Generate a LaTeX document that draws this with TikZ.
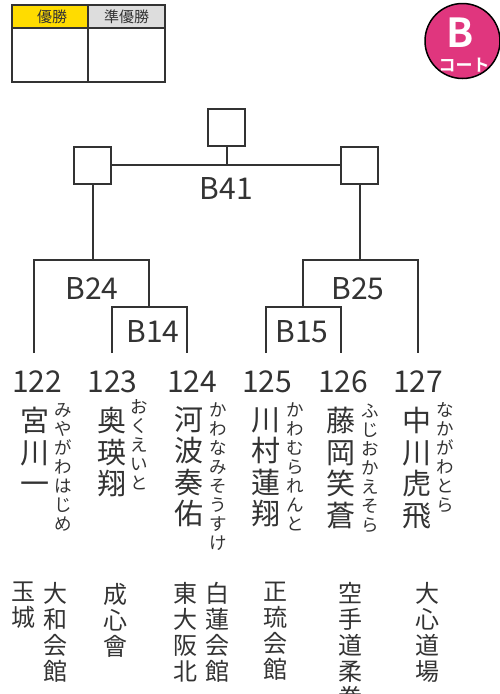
\documentclass[tikz,border=0pt]{standalone}
\usepackage{fontspec}
\setmainfont{Noto Sans CJK JP}
\newfontfamily\jpbold{Noto Sans CJK JP Bold}
\definecolor{ink}{HTML}{333333}
\definecolor{gold}{HTML}{FFDC00}
\definecolor{hdrgray}{HTML}{DDDDDD}
\definecolor{courtpink}{HTML}{E0367E}
\begin{document}
\begin{tikzpicture}[x=1pt,y=-1pt,
  line/.style={draw=ink,line width=2pt},
  wbox/.style={draw=ink,line width=2pt,minimum width=37pt,minimum height=37pt,inner sep=0pt},
  lbl/.style={text=ink,anchor=base,inner sep=0pt,font=\fontsize{30}{30}\selectfont},
  namecol/.style={text=ink,anchor=north,align=center,inner sep=0pt,font=\fontsize{29}{31.5}\selectfont},
  kanacol/.style={text=ink,anchor=north,align=center,inner sep=0pt,font=\fontsize{17.5}{19}\selectfont},
  dojocol/.style={text=ink,anchor=north,align=center,inner sep=0pt,font=\fontsize{24}{26}\selectfont},
  hdr/.style={text=ink,inner sep=0pt,font=\fontsize{15}{15}\selectfont}]
\useasboundingbox (0,0) rectangle (500,694);
\begin{scope}
\clip (0,0) rectangle (500,694);
% winners table
\fill[gold] (12,5) rectangle (88,28);
\fill[hdrgray] (88,5) rectangle (165,28);
\draw[line] (12,5) rectangle (165,82);
\draw[line] (12,28) -- (165,28);
\draw[line] (88,5) -- (88,82);
\node[hdr] (h1) at (52,17) {優勝};
\node[hdr] (h2) at (126.5,17) {準優勝};
% court badge
\node[circle,fill=courtpink,draw=black,line width=1.5pt,minimum size=75pt,inner sep=0pt] (court) at (462.5,41) {};
\node[text=white,anchor=base,inner sep=0pt,font=\jpbold\fontsize{40}{40}\selectfont] (cB) at (460,47) {B};
\node[text=white,anchor=base,inner sep=0pt,font=\jpbold\fontsize{17}{17}\selectfont] (cK) at (464,71) {コート};
% result boxes
\node[wbox] (top) at (226.5,127) {};
\node[wbox] (L) at (92.5,165) {};
\node[wbox] (R) at (359.5,165) {};
% bracket coordinates
\coordinate (j41) at (226.5,165);
\coordinate (j24) at (92.5,260);
\coordinate (j25) at (359.5,260);
\coordinate (j14) at (149,307);
\coordinate (j15) at (303,307);
\coordinate (p122) at (34,353);
\coordinate (p123) at (112,353);
\coordinate (p124) at (187,353);
\coordinate (p125) at (266,353);
\coordinate (p126) at (341,353);
\coordinate (p127) at (418,353);
\draw[line] (top) -- (j41);
\draw[line] (L) -- (R);
\draw[line] (L) -- (j24);
\draw[line] (R) -- (j25);
\draw[line] (p122) |- (j24) -| (j14);
\draw[line] (p123) |- (j14) -| (p124);
\draw[line] (j15) |- (j25) -| (p127);
\draw[line] (p125) |- (j15) -| (p126);
% match labels
\node[lbl] (B41) at (226.5,199) {B41};
\node[lbl] (B24) at (92,299) {B24};
\node[lbl] (B14) at (153,342) {B14};
\node[lbl] (B25) at (358,299) {B25};
\node[lbl] (B15) at (302,342) {B15};
% numbers
\node[lbl] (n122) at (37,392) {122};
\node[lbl] (n123) at (112.5,392) {123};
\node[lbl] (n124) at (192,392) {124};
\node[lbl] (n125) at (267,392) {125};
\node[lbl] (n126) at (343,392) {126};
\node[lbl] (n127) at (418,392) {127};
% names
\node[namecol] (m1) at (35,407) {宮\\川\\一};
\node[kanacol] (k1) at (63,403) {み\\や\\が\\わ\\は\\じ\\め};
\node[namecol] (m2) at (112,407) {奥\\瑛\\翔};
\node[kanacol] (k2) at (139,399) {お\\く\\え\\い\\と};
\node[namecol] (m3) at (189,406) {河\\波\\奏\\佑};
\node[kanacol] (k3) at (218,402) {か\\わ\\な\\み\\そ\\う\\す\\け};
\node[namecol] (m4) at (266,407) {川\\村\\蓮\\翔};
\node[kanacol] (k4) at (295,402) {か\\わ\\む\\ら\\れ\\ん\\と};
\node[namecol] (m5) at (341,407) {藤\\岡\\笑\\蒼};
\node[kanacol] (k5) at (370,404) {ふ\\じ\\お\\か\\え\\そ\\ら};
\node[namecol] (m6) at (417,407) {中\\川\\虎\\飛};
\node[kanacol] (k6) at (445,402) {な\\か\\が\\わ\\と\\ら};
% dojos
\node[dojocol] (d1a) at (55,582) {大\\和\\会\\館};
\node[dojocol] (d1b) at (23,582) {玉\\城};
\node[dojocol] (d2) at (115,583) {成\\心\\會};
\node[dojocol] (d3a) at (217,582) {白\\蓮\\会\\館};
\node[dojocol] (d3b) at (185,582) {東\\大\\阪\\北};
\node[dojocol] (d4) at (275,582) {正\\琉\\会\\館};
\node[dojocol] (d5) at (350,582) {空\\手\\道\\柔\\拳};
\node[dojocol] (d6) at (427,582) {大\\心\\道\\場};
\end{scope}
\end{tikzpicture}
\end{document}
